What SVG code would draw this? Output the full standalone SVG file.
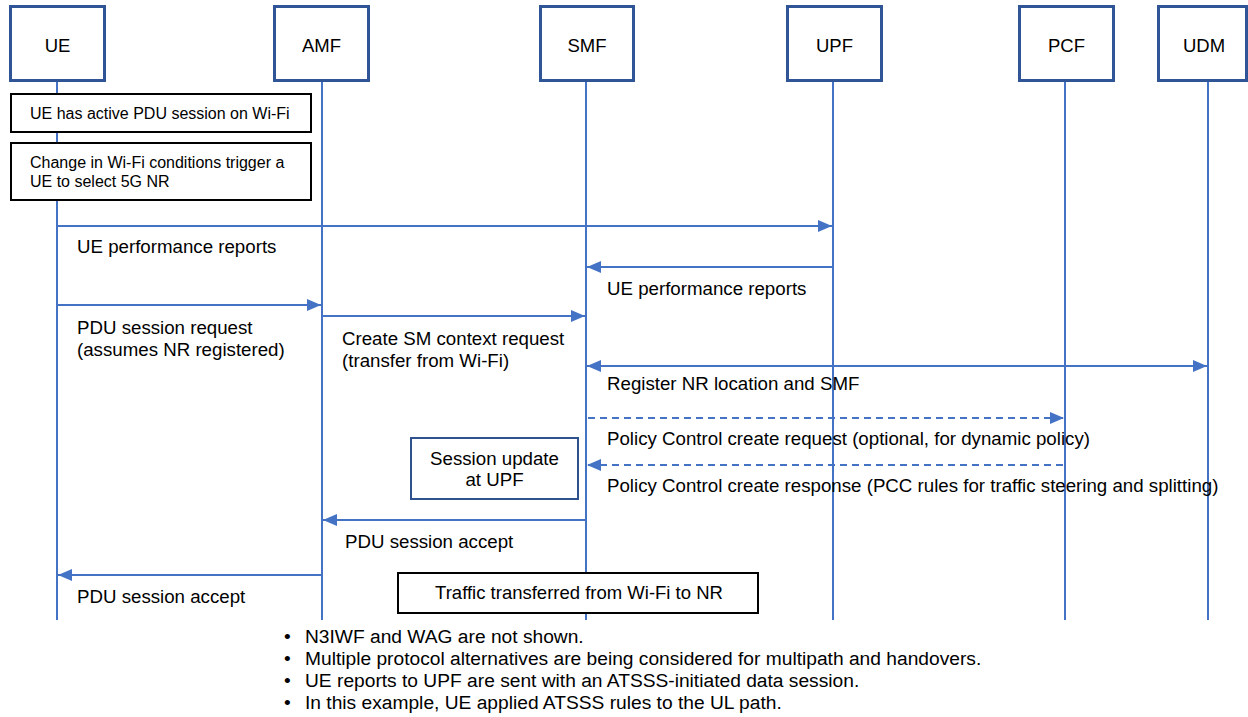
<svg xmlns="http://www.w3.org/2000/svg" width="1248" height="717" viewBox="0 0 1248 717">
<defs>
<style>
text{font-family:"Liberation Sans",Arial,sans-serif;fill:#000}
.hdr{fill:#fff;stroke:#2F5597;stroke-width:3}
.ht{font-size:18.5px;text-anchor:middle}
.life{stroke:#4472C4;stroke-width:2;fill:none}
.box{fill:#fff;stroke:#000;stroke-width:2}
.bt{font-size:16px}
.msg{stroke:#4472C4;stroke-width:2;fill:none}
.dash{stroke-dasharray:7 5}
.lbl{font-size:18.7px}
.note{font-size:19.2px}
</style>
<marker id="ah" viewBox="0 0 14 12" refX="14" refY="6" markerWidth="14" markerHeight="12" markerUnits="userSpaceOnUse" orient="auto-start-reverse">
<path d="M0,0 L14,6 L0,12 Z" fill="#4472C4"/>
</marker>
</defs>

<g id="lifelines">
<line class="life" x1="57" y1="80" x2="57" y2="620"/>
<line class="life" x1="322" y1="80" x2="322" y2="620"/>
<line class="life" x1="586" y1="80" x2="586" y2="620"/>
<line class="life" x1="833" y1="80" x2="833" y2="620"/>
<line class="life" x1="1065" y1="80" x2="1065" y2="620"/>
<line class="life" x1="1208" y1="80" x2="1208" y2="620"/>
</g>

<g id="node-ue"><rect class="hdr" x="10.5" y="6.5" width="94" height="74"/><text class="ht" x="57.5" y="52">UE</text></g>
<g id="node-amf"><rect class="hdr" x="274.5" y="6.5" width="94" height="74"/><text class="ht" x="321.5" y="52">AMF</text></g>
<g id="node-smf"><rect class="hdr" x="540.5" y="6.5" width="93" height="74"/><text class="ht" x="587" y="52">SMF</text></g>
<g id="node-upf"><rect class="hdr" x="787.5" y="6.5" width="94" height="74"/><text class="ht" x="834.5" y="52">UPF</text></g>
<g id="node-pcf"><rect class="hdr" x="1019.5" y="6.5" width="94" height="74"/><text class="ht" x="1066.5" y="52">PCF</text></g>
<g id="node-udm"><rect class="hdr" x="1158.5" y="6.5" width="88" height="74"/><text class="ht" x="1204" y="52">UDM</text></g>

<g id="note-active"><rect class="box" x="11" y="94" width="300" height="38"/><text class="bt" x="30" y="119">UE has active PDU session on Wi-Fi</text></g>
<g id="note-change"><rect class="box" x="11" y="143" width="300" height="57"/><text class="bt" x="30" y="168">Change in Wi-Fi conditions trigger a</text><text class="bt" x="30" y="187">UE to select 5G NR</text></g>

<g id="connectors">
<line class="msg" x1="57" y1="226" x2="832" y2="226" marker-end="url(#ah)"/>
<line class="msg" x1="833" y1="267" x2="587" y2="267" marker-end="url(#ah)"/>
<line class="msg" x1="57" y1="305" x2="321" y2="305" marker-end="url(#ah)"/>
<line class="msg" x1="322" y1="316" x2="585" y2="316" marker-end="url(#ah)"/>
<line class="msg" x1="587" y1="366" x2="1207" y2="366" marker-start="url(#ah)" marker-end="url(#ah)"/>
<line class="msg dash" x1="588" y1="418" x2="1064" y2="418" marker-end="url(#ah)"/>
<line class="msg dash" x1="1063" y1="465" x2="587" y2="465" marker-end="url(#ah)"/>
<line class="msg" x1="586" y1="520" x2="323" y2="520" marker-end="url(#ah)"/>
<line class="msg" x1="322" y1="575" x2="58" y2="575" marker-end="url(#ah)"/>
</g>

<g id="labels">
<text class="lbl" x="77" y="253">UE performance reports</text>
<text class="lbl" x="607" y="295">UE performance reports</text>
<text class="lbl" x="77" y="334">PDU session request</text>
<text class="lbl" x="77" y="356">(assumes NR registered)</text>
<text class="lbl" x="342" y="345">Create SM context request</text>
<text class="lbl" x="342" y="367">(transfer from Wi-Fi)</text>
<text class="lbl" x="607" y="390">Register NR location and SMF</text>
<text class="lbl" x="607" y="445">Policy Control create request (optional, for dynamic policy)</text>
<text class="lbl" x="607" y="492">Policy Control create response (PCC rules for traffic steering and splitting)</text>
<text class="lbl" x="345" y="548">PDU session accept</text>
<text class="lbl" x="77" y="603">PDU session accept</text>
</g>

<g id="session-update"><rect x="411" y="438" width="167" height="61" fill="#fff" stroke="#2F528F" stroke-width="2"/><text class="lbl" x="494.5" y="465" text-anchor="middle">Session update</text><text class="lbl" x="494.5" y="486" text-anchor="middle">at UPF</text></g>

<g id="traffic"><rect class="box" x="398" y="573" width="360" height="40"/><text x="579" y="599" font-size="18.5" text-anchor="middle">Traffic transferred from Wi-Fi to NR</text></g>

<g id="notes">
<text class="note" x="284" y="643">•</text><text class="note" x="305" y="643">N3IWF and WAG are not shown.</text>
<text class="note" x="284" y="665">•</text><text class="note" x="305" y="665">Multiple protocol alternatives are being considered for multipath and handovers.</text>
<text class="note" x="284" y="687">•</text><text class="note" x="305" y="687">UE reports to UPF are sent with an ATSSS-initiated data session.</text>
<text class="note" x="284" y="709">•</text><text class="note" x="305" y="709">In this example, UE applied ATSSS rules to the UL path.</text>
</g>
</svg>
